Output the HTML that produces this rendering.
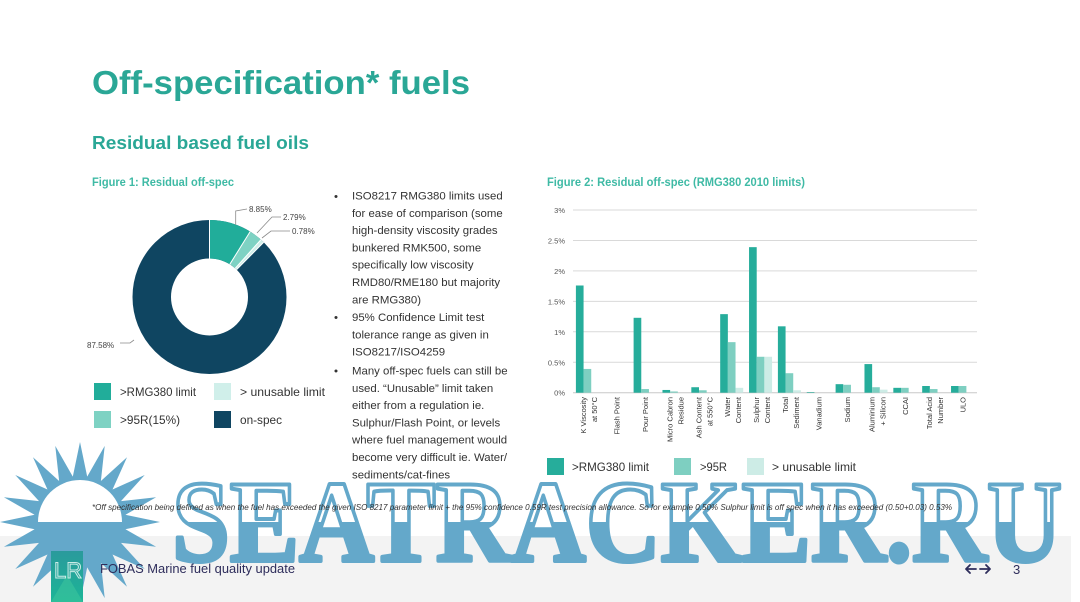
<!DOCTYPE html>
<html><head><meta charset="utf-8"><style>
html,body{margin:0;padding:0;background:#fff;}
svg{display:block;}
</style></head><body>
<svg width="1080" height="602" viewBox="0 0 1080 602" xmlns="http://www.w3.org/2000/svg" font-family="Liberation Sans, sans-serif">
<defs>
<linearGradient id="wm" gradientUnits="userSpaceOnUse" x1="0" y1="478" x2="0" y2="565">
<stop offset="0" stop-color="#ffffff"/><stop offset="0.505" stop-color="#ffffff"/>
<stop offset="0.505" stop-color="#64a8ca"/><stop offset="1" stop-color="#64a8ca"/>
</linearGradient>
<linearGradient id="lr" x1="0" y1="0" x2="0" y2="1">
<stop offset="0" stop-color="#2a9a9c"/><stop offset="1" stop-color="#1cb597"/>
</linearGradient>
</defs>
<rect width="1080" height="602" fill="#fff"/>
<rect x="0" y="536" width="1071" height="66" fill="#f3f3f3"/>

<!-- Titles -->
<text x="92" y="94" font-size="33" font-weight="bold" fill="#2aa796" textLength="378" lengthAdjust="spacingAndGlyphs">Off-specification* fuels</text>
<text x="92" y="149" font-size="18.5" font-weight="bold" fill="#2aa796" textLength="217" lengthAdjust="spacingAndGlyphs">Residual based fuel oils</text>
<text x="92" y="186" font-size="12" font-weight="bold" fill="#3fbaa5" textLength="142" lengthAdjust="spacingAndGlyphs">Figure 1: Residual off-spec</text>
<text x="547" y="186" font-size="12" font-weight="bold" fill="#3fbaa5" textLength="258" lengthAdjust="spacingAndGlyphs">Figure 2: Residual off-spec (RMG380 2010 limits)</text>

<!-- Donut -->
<circle cx="209.5" cy="297" r="57.75" fill="none" stroke="#0f4561" stroke-width="38.5"/>
<g transform="rotate(-90 209.5 297)">
<circle cx="209.5" cy="297" r="57.75" fill="none" stroke="#21ad9a" stroke-width="38.5" stroke-dasharray="32.11 400" stroke-dashoffset="0"/>
<circle cx="209.5" cy="297" r="57.75" fill="none" stroke="#7ed2c3" stroke-width="38.5" stroke-dasharray="10.12 400" stroke-dashoffset="-32.11"/>
<circle cx="209.5" cy="297" r="57.75" fill="none" stroke="#d0efea" stroke-width="38.5" stroke-dasharray="2.83 400" stroke-dashoffset="-42.23"/>
</g>
<g stroke="#fff" stroke-width="1">
<line x1="209.5" y1="258.5" x2="209.5" y2="220"/>
<line x1="229.82" y1="264.30" x2="250.14" y2="231.60"/>
<line x1="235.21" y1="268.34" x2="260.92" y2="239.69"/>
<line x1="236.58" y1="269.64" x2="263.67" y2="242.28"/>
</g>
<g fill="none" stroke="#8a8a8a" stroke-width="0.8">
<polyline points="235.7,225 235.7,211 247,209"/>
<polyline points="257,233 272,217 281,217"/>
<polyline points="262,238 271,231 290,231"/>
<polyline points="120,343 130,343 134,340"/>
</g>
<g font-size="8" fill="#444">
<text x="249" y="212">8.85%</text>
<text x="283" y="220">2.79%</text>
<text x="292" y="234">0.78%</text>
<text x="87" y="348">87.58%</text>
</g>
<rect x="94" y="383" width="17" height="17" fill="#21ad9a"/>
<rect x="214" y="383" width="17" height="17" fill="#d0efea"/>
<rect x="94" y="411" width="17" height="17" fill="#7ed2c3"/>
<rect x="214" y="411" width="17" height="17" fill="#0f4561"/>
<g font-size="12" fill="#333">
<text x="120" y="396" textLength="76" lengthAdjust="spacingAndGlyphs">&gt;RMG380 limit</text>
<text x="240" y="396" textLength="85" lengthAdjust="spacingAndGlyphs">&gt; unusable limit</text>
<text x="120" y="424" textLength="60" lengthAdjust="spacingAndGlyphs">&gt;95R(15%)</text>
<text x="240" y="424" textLength="42" lengthAdjust="spacingAndGlyphs">on-spec</text>
</g>

<!-- Bullets -->
<g font-size="11.4" fill="#333">
<text x="334" y="200">•</text>
<text x="334" y="321">•</text>
<text x="334" y="374.5">•</text>
<text x="352" y="199.5">ISO8217 RMG380 limits used</text>
<text x="352" y="216.8">for ease of comparison (some</text>
<text x="352" y="234.1">high-density viscosity grades</text>
<text x="352" y="251.4">bunkered RMK500, some</text>
<text x="352" y="268.7">specifically low viscosity</text>
<text x="352" y="286">RMD80/RME180 but majority</text>
<text x="352" y="303.3">are RMG380)</text>
<text x="352" y="321">95% Confidence Limit test</text>
<text x="352" y="338.3">tolerance range as given in</text>
<text x="352" y="355.6">ISO8217/ISO4259</text>
<text x="352" y="374.5">Many off-spec fuels can still be</text>
<text x="352" y="391.8">used. “Unusable” limit taken</text>
<text x="352" y="409.1">either from a regulation ie.</text>
<text x="352" y="426.4">Sulphur/Flash Point, or levels</text>
<text x="352" y="443.7">where fuel management would</text>
<text x="352" y="461">become very difficult ie. Water/</text>
<text x="352" y="478.3">sediments/cat-fines</text>
</g>

<!-- Bar chart grid -->
<g stroke="#d9d9d9" stroke-width="1">
<line x1="573" y1="210" x2="977" y2="210"/>
<line x1="573" y1="240.45" x2="977" y2="240.45"/>
<line x1="573" y1="270.9" x2="977" y2="270.9"/>
<line x1="573" y1="301.35" x2="977" y2="301.35"/>
<line x1="573" y1="331.8" x2="977" y2="331.8"/>
<line x1="573" y1="362.25" x2="977" y2="362.25"/>
<line x1="573" y1="392.7" x2="977" y2="392.7" stroke="#c8c8c8"/>
</g>
<g font-size="7.5" fill="#555" text-anchor="end">
<text x="565" y="213">3%</text>
<text x="565" y="243.5">2.5%</text>
<text x="565" y="274">2%</text>
<text x="565" y="304.4">1.5%</text>
<text x="565" y="334.8">1%</text>
<text x="565" y="365.3">0.5%</text>
<text x="565" y="395.7">0%</text>
</g>
<!-- Bars -->
<g fill="#26ad9b">
<rect x="575.90" y="285.5" width="7.67" height="107.2"/>
<rect x="633.61" y="317.8" width="7.67" height="74.9"/>
<rect x="662.47" y="389.96" width="7.67" height="2.74"/>
<rect x="691.33" y="387.22" width="7.67" height="5.48"/>
<rect x="720.19" y="314.14" width="7.67" height="78.56"/>
<rect x="749.04" y="247.15" width="7.67" height="145.55"/>
<rect x="777.90" y="326.32" width="7.67" height="66.38"/>
<rect x="806.76" y="392.09" width="7.67" height="0.61"/>
<rect x="835.61" y="384.17" width="7.67" height="8.53"/>
<rect x="864.47" y="364.08" width="7.67" height="28.62"/>
<rect x="893.33" y="387.83" width="7.67" height="4.87"/>
<rect x="922.18" y="386.0" width="7.67" height="6.7"/>
<rect x="951.04" y="386.0" width="7.67" height="6.7"/>
</g>
<g fill="#7ecfc1">
<rect x="583.57" y="368.95" width="7.67" height="23.75"/>
<rect x="641.28" y="389.05" width="7.67" height="3.65"/>
<rect x="670.14" y="391.48" width="7.67" height="1.22"/>
<rect x="699.00" y="390.26" width="7.67" height="2.44"/>
<rect x="727.86" y="342.15" width="7.67" height="50.55"/>
<rect x="756.71" y="356.77" width="7.67" height="35.93"/>
<rect x="785.57" y="373.21" width="7.67" height="19.49"/>
<rect x="843.28" y="384.78" width="7.67" height="7.92"/>
<rect x="872.14" y="387.22" width="7.67" height="5.48"/>
<rect x="901.00" y="387.83" width="7.67" height="4.87"/>
<rect x="929.85" y="389.05" width="7.67" height="3.65"/>
<rect x="958.71" y="386.0" width="7.67" height="6.7"/>
</g>
<g fill="#cdece6">
<rect x="735.53" y="387.83" width="7.67" height="4.87"/>
<rect x="764.38" y="356.77" width="7.67" height="35.93"/>
<rect x="793.24" y="390.26" width="7.67" height="2.44"/>
<rect x="879.81" y="389.65" width="7.67" height="3.05"/>
</g>
<!-- X labels -->
<g font-size="7.5" fill="#333" text-anchor="end">
<text transform="translate(585.9,397) rotate(-90)">K Viscosity</text>
<text transform="translate(596.9,397) rotate(-90)">at 50°C</text>
<text transform="translate(619.3,397) rotate(-90)">Flash Point</text>
<text transform="translate(648.1,397) rotate(-90)">Pour Point</text>
<text transform="translate(672.5,397) rotate(-90)">Micro Cabron</text>
<text transform="translate(683.5,397) rotate(-90)">Residue</text>
<text transform="translate(701.4,397) rotate(-90)">Ash Content</text>
<text transform="translate(712.4,397) rotate(-90)">at 550°C</text>
<text transform="translate(730.2,397) rotate(-90)">Water</text>
<text transform="translate(741.2,397) rotate(-90)">Content</text>
<text transform="translate(759.1,397) rotate(-90)">Sulphur</text>
<text transform="translate(770.1,397) rotate(-90)">Content</text>
<text transform="translate(787.9,397) rotate(-90)">Total</text>
<text transform="translate(798.9,397) rotate(-90)">Sediment</text>
<text transform="translate(821.3,397) rotate(-90)">Vanadium</text>
<text transform="translate(850.1,397) rotate(-90)">Sodium</text>
<text transform="translate(874.5,397) rotate(-90)">Aluminium</text>
<text transform="translate(885.5,397) rotate(-90)">+ Silicon</text>
<text transform="translate(907.9,397) rotate(-90)">CCAI</text>
<text transform="translate(932.2,397) rotate(-90)">Total Acid</text>
<text transform="translate(943.2,397) rotate(-90)">Number</text>
<text transform="translate(965.6,397) rotate(-90)">ULO</text>
</g>
<!-- Bar legend -->
<rect x="547" y="458" width="17" height="17" fill="#26ad9b"/>
<rect x="674" y="458" width="17" height="17" fill="#7ecfc1"/>
<rect x="747" y="458" width="17" height="17" fill="#cdece6"/>
<g font-size="12" fill="#333">
<text x="572" y="471" textLength="77" lengthAdjust="spacingAndGlyphs">&gt;RMG380 limit</text>
<text x="700" y="471" textLength="27" lengthAdjust="spacingAndGlyphs">&gt;95R</text>
<text x="772" y="471" textLength="84" lengthAdjust="spacingAndGlyphs">&gt; unusable limit</text>
</g>

<!-- Sun watermark -->
<polygon fill="#64a8ca" points="160,522 125.43,529.19 156.09,546.72 120.99,542.88 144.72,569.02 112.53,554.53 127.02,586.72 100.88,562.99 104.72,598.09 87.19,567.43 80,602 72.81,567.43 55.28,598.09 59.12,562.99 32.98,586.72 47.47,554.53 15.28,569.02 39.01,542.88 3.91,546.72 34.57,529.19 0,522 34.57,514.81 3.91,497.28 39.01,501.12 15.28,474.98 47.47,489.47 32.98,457.28 59.12,481.01 55.28,445.91 72.81,476.57 80,442 87.19,476.57 104.72,445.91 100.88,481.01 127.02,457.28 112.53,489.47 144.72,474.98 120.99,501.12 156.09,497.28 125.43,514.81"/>
<circle cx="80" cy="522" r="46" fill="#64a8ca"/>
<path d="M38,522 A42,42 0 0 1 122,522 Z" fill="#fff"/>

<!-- Text watermark -->
<text x="172" y="561" style="font-family:'Liberation Serif',serif;font-weight:bold;" font-size="117" fill="url(#wm)" stroke="#64a8ca" stroke-width="4" stroke-linejoin="round" textLength="890" lengthAdjust="spacingAndGlyphs">SEATRACKER.RU</text>

<!-- Footnote -->
<text x="92" y="510" font-size="8" font-style="italic" fill="#333" textLength="860" lengthAdjust="spacingAndGlyphs">*Off specification being defined as when the fuel has exceeded the given ISO 8217 parameter limit + the 95% confidence 0.59R test precision allowance. So for example 0.50% Sulphur limit is off spec when it has exceeded (0.50+0.03) 0.53%</text>

<!-- Footer -->
<rect x="51" y="551" width="32" height="51" fill="url(#lr)"/>
<polygon points="51,602 67,575 83,602" fill="#3cc49c" opacity="0.6"/>
<text x="54" y="578" font-size="22" fill="none" stroke="#c9ebe6" stroke-width="1">LR</text>
<text x="100" y="573" font-size="13" fill="#2e2d5b" textLength="195" lengthAdjust="spacingAndGlyphs">FOBAS Marine fuel quality update</text>
<g stroke="#2e2d5b" stroke-width="1.8" fill="none" stroke-linecap="round" stroke-linejoin="round">
<path d="M976,569 H966 M970,565 L966,569 L970,573"/>
<path d="M980,569 H990 M986,565 L990,569 L986,573"/>
</g>
<text x="1013" y="574" font-size="13" fill="#2e2d5b">3</text>
</svg>
</body></html>
